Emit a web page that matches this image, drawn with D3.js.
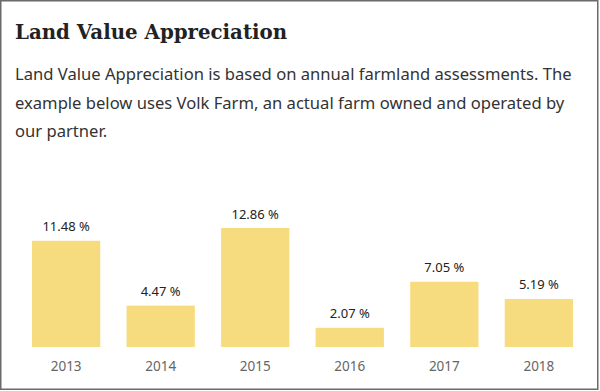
<!DOCTYPE html>
<html>
<head>
<meta charset="utf-8">
<script src="https://cdn.jsdelivr.net/npm/d3@7"></script>
<style>
  html, body { margin: 0; padding: 0; background: white; }
</style>
</head>
<body>
<svg id="chart"></svg>
<script>
let years = ['2013', '2014', '2015', '2016', '2017', '2018'];
let appreciation = [11.48, 4.47, 12.86, 2.07, 7.05, 5.19];
let title = 'Land Value Appreciation';
let intro = [
  'Land Value Appreciation is based on annual farmland assessments. The',
  'example below uses Volk Farm, an actual farm owned and operated by',
  'our partner.'
];

function createGraph() {
  let width = 600;
  let height = 391;
  let margin = { top: 228, bottom: 44, left: 32, right: 27 };

  let svg = d3.select('#chart');
  svg.selectAll('*').remove();

  svg
    .attr('width', width)
    .attr('height', height)
    .style('display', 'block')
    .style('background', 'white');

  // frame
  svg.append('rect')
    .attr('x', 0.75)
    .attr('y', 0.75)
    .attr('width', width - 3)
    .attr('height', height - 2.5)
    .attr('fill', 'none')
    .attr('stroke', '#6b6b6b')
    .attr('stroke-width', 1.5);

  // heading + text
  svg.append('text')
    .attr('x', 15)
    .attr('y', 39)
    .text(title)
    .style('font-family', '"DejaVu Serif", serif')
    .style('font-weight', 'bold')
    .style('font-size', '19.8px')
    .style('fill', '#222');

  svg.selectAll('.intro')
    .data(intro)
    .enter()
    .append('text')
    .attr('class', 'intro')
    .attr('x', 15)
    .attr('y', (d, i) => 80 + i * 28.5)
    .text(d => d)
    .style('font-family', '"Noto Sans", sans-serif')
    .style('font-size', '16.6px')
    .style('fill', '#333');

  // scales
  let xScale = d3.scaleBand()
    .domain(years)
    .range([margin.left, width - margin.right])
    .paddingInner(0.278)
    .paddingOuter(0);

  let yScale = d3.scaleLinear()
    .domain([0, d3.max(appreciation)])
    .range([height - margin.bottom, margin.top]);

  let data = years.map((y, i) => ({ year: y, value: appreciation[i] }));

  // bars
  svg.selectAll('.bar')
    .data(data)
    .enter()
    .append('rect')
    .attr('class', 'bar')
    .attr('x', d => xScale(d.year))
    .attr('y', d => yScale(d.value))
    .attr('width', xScale.bandwidth())
    .attr('height', d => yScale(0) - yScale(d.value))
    .attr('fill', '#f7dc7f');

  // value labels
  svg.selectAll('.val')
    .data(data)
    .enter()
    .append('text')
    .attr('class', 'val')
    .attr('x', d => xScale(d.year) + xScale.bandwidth() / 2)
    .attr('y', d => yScale(d.value) - 9.5)
    .text(d => d.value.toFixed(2) + ' %')
    .style('text-anchor', 'middle')
    .style('font-family', '"Noto Sans", sans-serif')
    .style('font-size', '13px')
    .style('fill', '#222');

  // x axis
  let xAxis = svg.append('g')
    .attr('transform', `translate(0, ${height - margin.bottom})`)
    .call(d3.axisBottom(xScale).tickSize(0).tickPadding(14));
  xAxis.select('.domain').remove();
  xAxis.selectAll('text')
    .style('font-family', '"Noto Sans", sans-serif')
    .style('font-size', '13.5px')
    .style('fill', '#666');
}

createGraph();
</script>
</body>
</html>
